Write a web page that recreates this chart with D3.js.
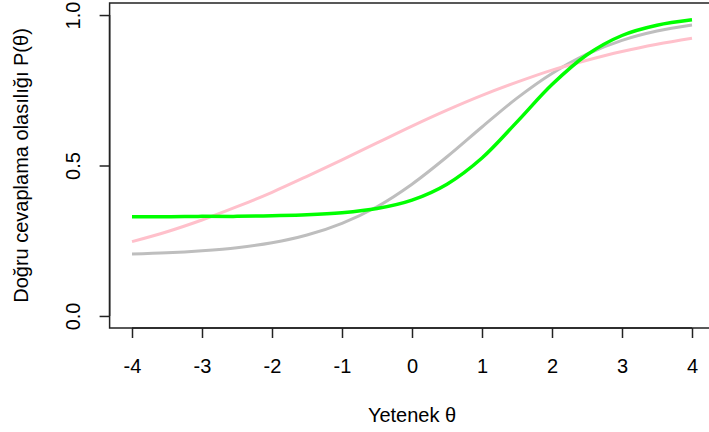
<!DOCTYPE html>
<html><head><meta charset="utf-8">
<script src="https://cdn.jsdelivr.net/npm/d3@7"></script>
<style>body{margin:0;background:#fff}svg{display:block}text{font-family:"Liberation Sans",Arial,sans-serif;fill:#000}</style>
</head><body><svg id="c" width="709" height="432"></svg>
<script>
const theta = [-4,-3.5,-3,-2.5,-2,-1.5,-1,-0.5,0,0.5,1,1.5,2,2.5,3,3.5,4];
const grayVals  = [0.206,0.210,0.217,0.227,0.243,0.269,0.308,0.363,0.438,0.529,0.628,0.724,0.806,0.870,0.916,0.947,0.967];
const pinkVals  = [0.247,0.280,0.319,0.363,0.411,0.464,0.519,0.575,0.631,0.684,0.733,0.777,0.817,0.850,0.879,0.903,0.923];
const greenVals = [0.330,0.330,0.331,0.331,0.333,0.336,0.343,0.357,0.385,0.438,0.525,0.645,0.769,0.868,0.932,0.966,0.984];
const xTicks = [-4,-3,-2,-1,0,1,2,3,4];
const yTicks = [0,0.5,1];
const yTickLabels = ["0.0","0.5","1.0"];
const series = [
  {name:"gray", values:grayVals, color:"#BEBEBE"},
  {name:"pink", values:pinkVals, color:"#FFC0CB"},
  {name:"green", values:greenVals, color:"#00FF00"}
];

const svg = d3.select("#c");
const x = d3.scaleLinear().domain([-4.32,4.32]).range([109.6,714.4]);
const y = d3.scaleLinear().domain([-0.04,1.04]).range([328,3]);

const line = d3.line().x((d,i)=>x(theta[i])).y(d=>y(d)).curve(d3.curveCatmullRom.alpha(0.5));
series.forEach(s=>{
  svg.append("path").attr("d", line(s.values)).attr("fill","none")
    .attr("stroke", s.color).attr("stroke-width", s.name==="green"?3.5:3).attr("stroke-linecap","butt");
});

// box
svg.append("rect").attr("x",x.range()[0]).attr("y",y.range()[1]).attr("width",x.range()[1]-x.range()[0])
  .attr("height",y.range()[0]-y.range()[1]).attr("fill","none").attr("stroke","#222").attr("stroke-width",1.5);

// x axis
const xa = svg.append("g").attr("transform",`translate(0,${y.range()[0]})`)
  .call(d3.axisBottom(x).tickValues(xTicks).tickSize(10).tickFormat(d=>String(d)));
// y axis
const ya = svg.append("g").attr("transform",`translate(${x.range()[0]},0)`)
  .call(d3.axisLeft(y).tickValues(yTicks).tickSize(10).tickFormat((d,i)=>yTickLabels[i]));
[xa,ya].forEach(g=>{
  g.select(".domain").attr("stroke","#222").attr("stroke-width",1.5);
  g.selectAll(".tick line").attr("stroke","#222").attr("stroke-width",1.5);
  g.selectAll("text").style("font-size","20px").attr("fill","#000");
});
xa.select(".domain").attr("d",`M${x(-4)},0H${x(4)}`);
ya.select(".domain").attr("d",`M0,${y(0)}V${y(1)}`);
xa.selectAll(".tick text").attr("y",45).attr("dy",null);
ya.selectAll(".tick text").attr("x",null).attr("dy",null).attr("text-anchor","middle")
  .attr("transform","translate(-29.6,0) rotate(-90)");

svg.append("text").attr("x",(x.range()[0]+x.range()[1])/2).attr("y",422).attr("text-anchor","middle")
  .style("font-size","20px").text("Yetenek θ");
svg.append("text").attr("transform",`translate(28,${(y.range()[0]+y.range()[1])/2}) rotate(-90)`)
  .attr("text-anchor","middle").style("font-size","20px").text("Doğru cevaplama olasılığı P(θ)");
</script></body></html>
